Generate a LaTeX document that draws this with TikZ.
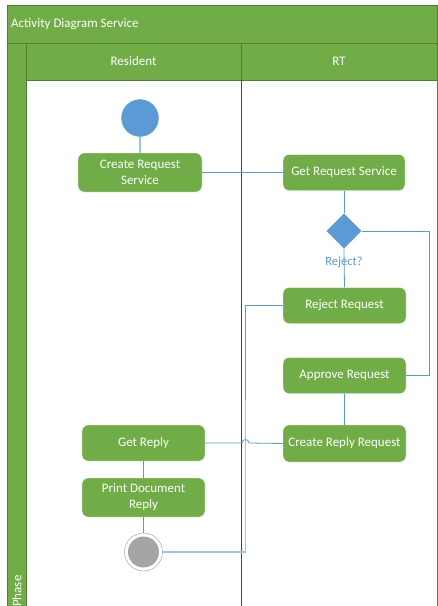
\documentclass[tikz,border=0pt]{standalone}
\usepackage{fontspec}
\setmainfont{Carlito}
\usetikzlibrary{shapes.geometric}
\definecolor{ogreen}{HTML}{70AD47}
\definecolor{dgreen}{HTML}{507E32}
\definecolor{divline}{HTML}{375623}
\definecolor{oblue}{HTML}{5B9BD5}
\definecolor{lblue}{HTML}{9DC3E6}
\definecolor{ogray}{HTML}{A5A5A5}
\tikzset{
  act/.style={rectangle, rounded corners=6pt, fill=ogreen, draw=white, line width=0.4pt,
    text=white, font=\fontsize{13}{16}\selectfont, align=center, inner sep=0pt},
  band/.style={fill=ogreen, draw=dgreen, line width=0.8pt},
  conn/.style={draw=oblue, line width=0.8pt},
  lconn/.style={draw=lblue, line width=1.4pt},
  hdr/.style={text=white, font=\fontsize{13}{16}\selectfont, inner sep=0pt}
}
\begin{document}
\begin{tikzpicture}[x=1pt,y=-1pt]
\useasboundingbox (0,0) rectangle (438,606);
\fill[white] (0,0) rectangle (438,606);
% swimlane frame
\path[band] (7,5) rectangle (437.5,43);
\path[band] (7,43) rectangle (26,607);
\path[band] (26,43) rectangle (241,80);
\path[band] (241,43) rectangle (437.5,80);
\draw[divline, line width=0.9pt] (241,80) -- (241,607);
\draw[dgreen, line width=0.8pt] (437.5,80) -- (437.5,607);
\node[hdr, anchor=west] (title) at (11,24) {Activity Diagram Service};
\node[hdr] (resident) at (133.5,61.5) {Resident};
\node[hdr] (rt) at (339,61.5) {RT};
\node[hdr, rotate=90, anchor=west] (phase) at (17,607) {Phase};
% nodes
\node[circle, fill=oblue, draw=white, line width=0.4pt, minimum size=38pt, inner sep=0pt] (start) at (140,118) {};
\node[act, minimum width=124pt, minimum height=39pt] (create) at (140,172.5) {Create Request\\Service};
\node[act, minimum width=122pt, minimum height=36pt] (getreq) at (344,172.5) {Get Request Service};
\node[diamond, fill=oblue, draw=white, line width=0.4pt, minimum width=36pt, minimum height=36pt, inner sep=0pt, aspect=1] (dia) at (344,231) {};
\node[text=oblue, font=\fontsize{12.5}{15}\selectfont, inner sep=0pt] (rejq) at (344,262) {Reject?};
\node[act, minimum width=123pt, minimum height=36pt] (reject) at (344.5,305.5) {Reject Request};
\node[act, minimum width=123pt, minimum height=36pt] (approve) at (344.5,375.5) {Approve Request};
\node[act, minimum width=123pt, minimum height=37pt] (creply) at (344.5,443.5) {Create Reply Request};
\node[act, minimum width=123pt, minimum height=36pt] (getreply) at (143.5,443) {Get Reply};
\node[act, minimum width=123pt, minimum height=39pt] (print) at (143.5,497.5) {Print Document\\Reply};
\node[circle, fill=white, draw=ogray, line width=0.5pt, minimum size=38pt, inner sep=0pt] (endc) at (143.5,552) {};
\node[circle, fill=ogray, minimum size=31pt, inner sep=0pt] (endin) at (143.5,552) {};
% connectors
\coordinate (c1) at (429,231);
\coordinate (c2) at (245.5,400);
\draw[lconn] (start.south) -- (create.north);
\draw[conn] (create.east) -- (getreq.west);
\draw[conn] (getreq.south) -- (dia.north);
\draw[conn] (dia.south) -- (reject.north);
\draw[conn] (dia.east) -- (c1) |- (approve.east);
\draw[conn] (approve.south) -- (creply.north);
\draw[conn] (reject.west) -| (c2);
\draw[lconn] (c2) |- (endc.east);
\draw[conn] (getreply.east) -- (242,443) .. controls (242,438.5) and (249,438.5) .. (249,443) -- (creply.west);
\draw[conn] (getreply.south) -- (print.north);
\draw[conn] (print.south) -- (endc.north);
\end{tikzpicture}
\end{document}
